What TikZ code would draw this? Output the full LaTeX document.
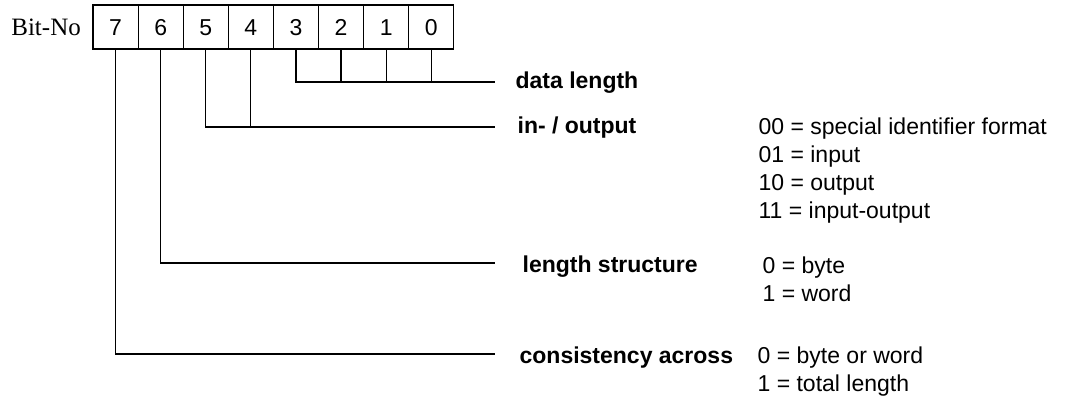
\documentclass[tikz,border=0pt]{standalone}
\usepackage{fontspec}
\setmainfont{Liberation Sans}
\newfontfamily\bitnofont{Liberation Serif}
\usetikzlibrary{positioning}
\begin{document}
\begin{tikzpicture}[x=0.5pt, y=-0.5pt, line width=0.6pt,
  bitcell/.style={draw, minimum width=22.55pt, minimum height=22pt, inner sep=0pt,
    text height=8.2pt, text depth=0pt, font=\fontsize{11.5}{12}\selectfont},
  fieldname/.style={anchor=base west, inner sep=0pt,
    font=\fontsize{11.5}{14}\selectfont\bfseries},
  fieldvalue/.style={anchor=base west, inner sep=0pt, align=left,
    font=\fontsize{11.5}{14}\selectfont}]
  \useasboundingbox (0,0) rectangle (1069,396);
  \pgfmathsetmacro{\cellW}{45.1};
  \pgfmathsetmacro{\boxLeft}{93};
  \pgfmathsetmacro{\lineEnd}{495};
  %% Bit register
  \foreach \b [count=\i from 0] in {7,6,5,4,3,2,1,0}
    \node[bitcell] (b\b) at (\boxLeft+\cellW*\i+\cellW/2, 27) {\b};
  \node[anchor=base east, inner sep=0pt, font=\bitnofont\fontsize{12.5}{14}\selectfont]
    (bitno) at ([xshift=-5.5pt]b7.base west) {Bit-No};
  %% Field names
  \node[fieldname] (datalen) at (515, 88) {data length};
  \node[fieldname] (inout) at (517, 133) {in- / output};
  \node[fieldname] (lenstruct) at (522, 272) {length structure};
  \node[fieldname] (consist) at (519, 363) {consistency across};
  %% Field values (anchored on the last line)
  \node[fieldvalue] (inoutval) at (758, 218)
    {00 = special identifier format\\01 = input\\10 = output\\11 = input-output};
  \node[fieldvalue] (lenstructval) at (762, 301) {0 = byte\\1 = word};
  \node[fieldvalue] (consistval) at (757, 391) {0 = byte or word\\1 = total length};
  %% Brackets
  \coordinate (dlEnd) at (\lineEnd, 82);
  \draw (b3.south) |- (dlEnd);
  \foreach \b in {2,1,0}
    \draw (b\b.south) -- (b\b.south |- dlEnd);
  \coordinate (ioEnd) at (\lineEnd, 127);
  \draw (b5.south) |- (ioEnd);
  \draw (b4.south) -- (b4.south |- ioEnd);
  \coordinate (lsEnd) at (\lineEnd, 263);
  \draw (b6.south) |- (lsEnd);
  \coordinate (caEnd) at (\lineEnd, 354);
  \draw (b7.south) |- (caEnd);
\end{tikzpicture}
\end{document}
